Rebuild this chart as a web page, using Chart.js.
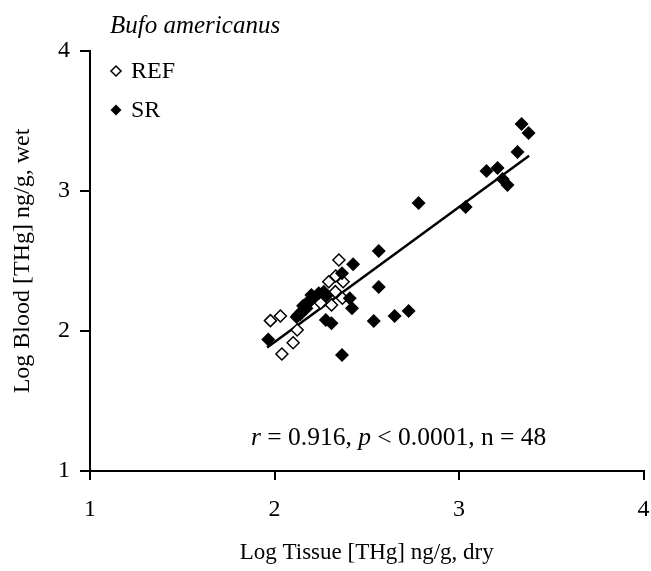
<!DOCTYPE html>
<html>
<head>
<meta charset="utf-8">
<script src="https://cdn.jsdelivr.net/npm/chart.js@4.4.1/dist/chart.umd.min.js"></script>
<style>
    html, body { margin: 0; padding: 0; background: #fff; }
    #wrap { width: 651px; height: 571px; }
</style>
</head>
<body>
<div id="wrap"><canvas id="myChart" width="651" height="571"></canvas></div>
<script>
// reference sites (open diamonds)
const refX = [2.349, 2.332, 2.294, 2.372, 2.330, 2.368, 2.309, 1.978, 2.032, 2.123, 2.101, 2.040, 2.140, 2.250];
const refY = [2.507, 2.393, 2.352, 2.352, 2.281, 2.234, 2.186, 2.074, 2.107, 2.007, 1.916, 1.836, 2.120, 2.200];

// SR sites (filled diamonds)
const srX = [3.339, 3.377, 3.317, 3.149, 3.209, 3.236, 3.263, 3.036, 2.781, 2.565, 2.565, 2.538, 2.651, 2.727,
             2.426, 2.366, 2.267, 2.200, 2.173, 2.146, 2.128, 2.182, 2.408, 2.420, 2.278, 2.309, 1.966, 2.366,
             2.155, 2.190, 2.240, 2.120, 2.280, 2.210];
const srY = [3.479, 3.414, 3.279, 3.143, 3.164, 3.086, 3.043, 2.886, 2.914, 2.571, 2.314, 2.071, 2.107, 2.143,
             2.476, 2.412, 2.281, 2.257, 2.162, 2.138, 2.114, 2.198, 2.234, 2.162, 2.079, 2.055, 1.940, 1.829,
             2.180, 2.220, 2.270, 2.100, 2.250, 2.240];

const xTicks = [1, 2, 3, 4];
const yTicks = [1, 2, 3, 4];

// regression line
const fitSlope = 0.965;
const fitIntercept = -0.01;
const fitFrom = 1.96;
const fitTo = 3.38;

const speciesName = 'Bufo americanus';
const statParts = [['r', true], [' = 0.916, ', false], ['p', true], [' < 0.0001, n = 48', false]];

const serif = '"Liberation Serif", "Times New Roman", serif';

function toPoints(xs, ys) {
    return xs.map((x, i) => ({ x: x, y: ys[i] }));
}

function diamond(ctx, x, y, r, filled) {
    ctx.beginPath();
    ctx.moveTo(x, y - r);
    ctx.lineTo(x + r, y);
    ctx.lineTo(x, y + r);
    ctx.lineTo(x - r, y);
    ctx.closePath();
    if (filled) {
        ctx.fillStyle = '#000';
        ctx.fill();
    } else {
        ctx.fillStyle = '#fff';
        ctx.fill();
        ctx.lineWidth = 1.5;
        ctx.strokeStyle = '#000';
        ctx.stroke();
    }
}

const textPlugin = {
    id: 'textPlugin',
    afterDraw(chart) {
        const ctx = chart.ctx;
        const xs = chart.scales.x;
        const ys = chart.scales.y;
        ctx.save();
        ctx.fillStyle = '#000';
        ctx.textBaseline = 'middle';

        // species name
        ctx.font = 'italic 25px ' + serif;
        ctx.textAlign = 'left';
        ctx.fillText(speciesName, 110, 26);

        // legend
        diamond(ctx, 116, 71, 5, false);
        diamond(ctx, 116, 110, 5.5, true);
        ctx.fillStyle = '#000';
        ctx.font = '24px ' + serif;
        ctx.fillText('REF', 131, 72);
        ctx.fillText('SR', 131, 111);

        // statistics
        const statFont = '25.5px ' + serif;
        let total = 0;
        statParts.forEach(p => {
            ctx.font = (p[1] ? 'italic ' : '') + statFont;
            total += ctx.measureText(p[0]).width;
        });
        let x = xs.getPixelForValue(2.673) - total / 2;
        const y = ys.getPixelForValue(1.236);
        statParts.forEach(p => {
            ctx.font = (p[1] ? 'italic ' : '') + statFont;
            ctx.fillText(p[0], x, y);
            x += ctx.measureText(p[0]).width;
        });
        ctx.restore();
    }
};

const axisBase = {
    type: 'linear',
    min: 1,
    max: 4,
    border: { display: true, color: '#000', width: 2 },
    grid: { display: true, drawOnChartArea: false, drawTicks: true, tickLength: 10, color: '#000', lineWidth: 2 },
    ticks: { color: '#000', font: { family: serif, size: 24 }, stepSize: 1 }
};

new Chart(document.getElementById('myChart'), {
    type: 'scatter',
    data: {
        datasets: [
            {
                type: 'line',
                label: 'fit',
                data: [fitFrom, fitTo].map(x => ({ x: x, y: fitSlope * x + fitIntercept })),
                borderColor: '#000',
                borderWidth: 2.5,
                pointRadius: 0,
                fill: false,
                order: 3
            },
            {
                label: 'REF',
                data: toPoints(refX, refY),
                pointStyle: 'rectRot',
                pointRadius: 6,
                backgroundColor: '#fff',
                borderColor: '#000',
                borderWidth: 1.5,
                order: 2
            },
            {
                label: 'SR',
                data: toPoints(srX, srY),
                pointStyle: 'rectRot',
                pointRadius: 7,
                backgroundColor: '#000',
                borderColor: '#000',
                borderWidth: 0,
                order: 1
            }
        ]
    },
    options: {
        responsive: false,
        animation: false,
        layout: { padding: { top: 51, right: 7, left: 0, bottom: 0 } },
        plugins: { legend: { display: false }, tooltip: { enabled: false } },
        scales: {
            x: Object.assign({}, axisBase, {
                grid: Object.assign({}, axisBase.grid, { tickLength: 9 }),
                ticks: Object.assign({}, axisBase.ticks, { padding: 15, maxRotation: 0,
                    callback: v => xTicks.includes(v) ? String(v) : '' }),
                title: { display: true, text: 'Log Tissue [THg] ng/g, dry', color: '#000',
                    font: { family: serif, size: 23 }, padding: { top: 18 } },
                afterFit: s => { s.height = 100; s.paddingLeft = 0; s.paddingRight = 0; }
            }),
            y: Object.assign({}, axisBase, {
                ticks: Object.assign({}, axisBase.ticks, { padding: 10,
                    callback: v => yTicks.includes(v) ? String(v) : '' }),
                title: { display: true, text: 'Log Blood [THg] ng/g, wet', color: '#000',
                    font: { family: serif, size: 24 }, padding: { top: 8, bottom: 14 } },
                afterFit: s => { s.width = 90; s.paddingTop = 0; s.paddingBottom = 0; }
            })
        }
    },
    plugins: [textPlugin]
});
</script>
</body>
</html>
